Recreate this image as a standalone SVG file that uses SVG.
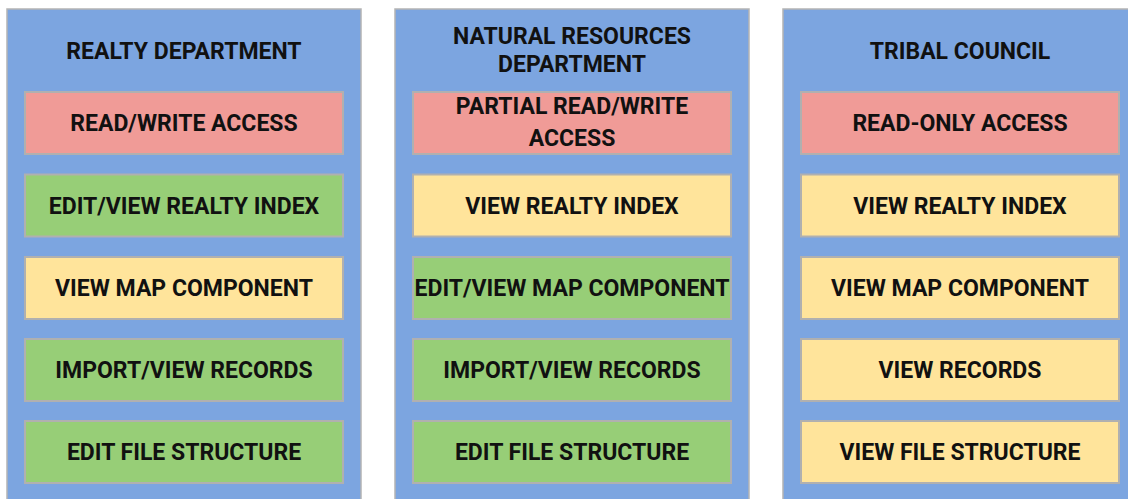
<svg xmlns="http://www.w3.org/2000/svg" width="1128" height="499" viewBox="0 0 1128 499">
<style>
.col{fill:#7ca5e0;stroke:#b4b4b4;stroke-width:1.5}
.box{stroke:#b0b0b0;stroke-width:2}
.red{fill:#f09b97}
.grn{fill:#97ce77}
.yel{fill:#ffe49b}
text{font-family:Roboto,"Liberation Sans",sans-serif;font-weight:700;font-size:23px;fill:#111;text-anchor:middle}
</style>
<rect width="1128" height="499" fill="#fff"/>
<g id="col-realty">
<rect class="col" x="7" y="9" width="354" height="500"/>
<text x="184" y="58.5">REALTY DEPARTMENT</text>
</g>
<g id="col-natural">
<rect class="col" x="395" y="9" width="354" height="500"/>
<text x="572" y="44">NATURAL RESOURCES</text>
<text x="572" y="72">DEPARTMENT</text>
</g>
<g id="col-tribal">
<rect class="col" x="783" y="9" width="354" height="500"/>
<text x="960" y="58.5">TRIBAL COUNCIL</text>
</g>
<g id="r1"><rect class="box red" x="25" y="92" width="318" height="62"/><text x="184" y="131">READ/WRITE ACCESS</text></g>
<g id="r2"><rect class="box grn" x="25" y="174.5" width="318" height="62"/><text x="184" y="213.5">EDIT/VIEW REALTY INDEX</text></g>
<g id="r3"><rect class="box yel" x="25" y="257" width="318" height="62"/><text x="184" y="296">VIEW MAP COMPONENT</text></g>
<g id="r4"><rect class="box grn" x="25" y="339" width="318" height="62"/><text x="184" y="378">IMPORT/VIEW RECORDS</text></g>
<g id="r5"><rect class="box grn" x="25" y="421" width="318" height="62"/><text x="184" y="460">EDIT FILE STRUCTURE</text></g>
<g id="n1"><rect class="box red" x="413" y="92" width="318" height="62"/><text x="572" y="113.5">PARTIAL READ/WRITE</text><text x="572" y="146">ACCESS</text></g>
<g id="n2"><rect class="box yel" x="413" y="174.5" width="318" height="62"/><text x="572" y="213.5">VIEW REALTY INDEX</text></g>
<g id="n3"><rect class="box grn" x="413" y="257" width="318" height="62"/><text x="572" y="296">EDIT/VIEW MAP COMPONENT</text></g>
<g id="n4"><rect class="box grn" x="413" y="339" width="318" height="62"/><text x="572" y="378">IMPORT/VIEW RECORDS</text></g>
<g id="n5"><rect class="box grn" x="413" y="421" width="318" height="62"/><text x="572" y="460">EDIT FILE STRUCTURE</text></g>
<g id="t1"><rect class="box red" x="801" y="92" width="318" height="62"/><text x="960" y="131">READ-ONLY ACCESS</text></g>
<g id="t2"><rect class="box yel" x="801" y="174.5" width="318" height="62"/><text x="960" y="213.5">VIEW REALTY INDEX</text></g>
<g id="t3"><rect class="box yel" x="801" y="257" width="318" height="62"/><text x="960" y="296">VIEW MAP COMPONENT</text></g>
<g id="t4"><rect class="box yel" x="801" y="339" width="318" height="62"/><text x="960" y="378">VIEW RECORDS</text></g>
<g id="t5"><rect class="box yel" x="801" y="421" width="318" height="62"/><text x="960" y="460">VIEW FILE STRUCTURE</text></g>
<g id="connectors"/>
</svg>
